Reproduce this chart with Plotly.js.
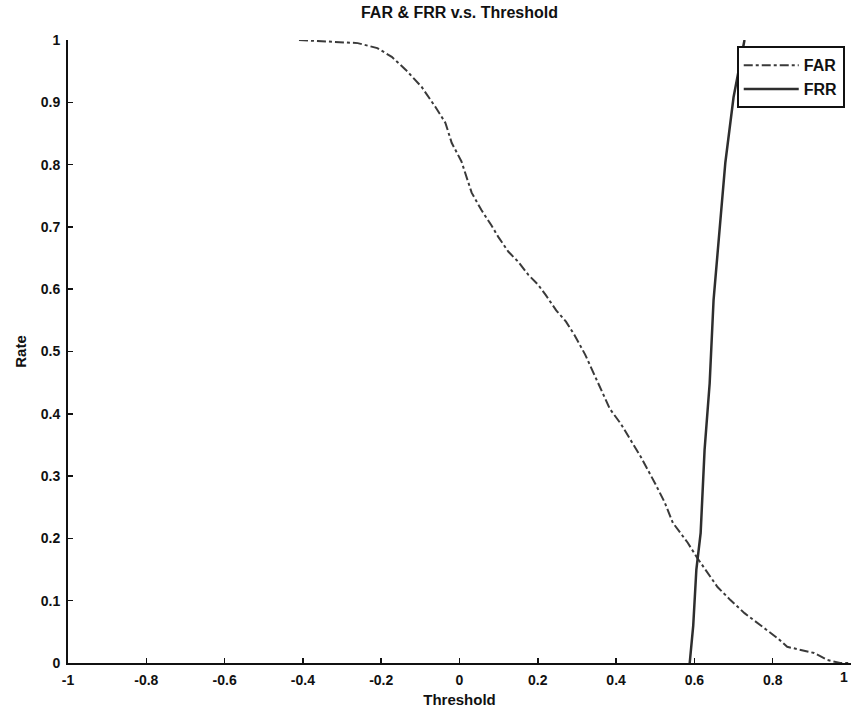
<!DOCTYPE html>
<html>
<head>
<meta charset="utf-8">
<script src="https://cdn.plot.ly/plotly-3.0.1.min.js"></script>
<style>html,body{margin:0;padding:0;background:#fff;}#chart{width:851px;height:712px;}</style>
</head>
<body>
<div id="chart"></div>
<script>
// FAR curve (dash-dot)
const farThreshold = [-0.41, -0.33, -0.26, -0.21, -0.173, -0.137, -0.097, -0.061, -0.036, -0.02, 0.005, 0.031, 0.056, 0.081, 0.099, 0.125, 0.15, 0.176, 0.201, 0.221, 0.247, 0.272, 0.295, 0.321, 0.341, 0.361, 0.384, 0.412, 0.438, 0.463, 0.499, 0.524, 0.545, 0.583, 0.608, 0.659, 0.692, 0.728, 0.768, 0.812, 0.837, 0.87, 0.906, 0.939, 0.972, 1.0];
const farRate      = [1.0, 0.997, 0.995, 0.987, 0.973, 0.952, 0.925, 0.892, 0.867, 0.835, 0.805, 0.755, 0.727, 0.703, 0.684, 0.660, 0.644, 0.623, 0.607, 0.590, 0.566, 0.548, 0.525, 0.495, 0.468, 0.441, 0.408, 0.384, 0.358, 0.331, 0.289, 0.258, 0.225, 0.193, 0.168, 0.122, 0.101, 0.080, 0.061, 0.040, 0.026, 0.021, 0.016, 0.005, 0.0, 0.0];
// FRR curve (solid)
const frrThreshold = [0.588, 0.597, 0.605, 0.616, 0.626, 0.639, 0.649, 0.664, 0.679, 0.700, 0.728];
const frrRate      = [0.0, 0.06, 0.15, 0.209, 0.342, 0.449, 0.583, 0.695, 0.803, 0.908, 1.0];
const xTicks = [-1, -0.8, -0.6, -0.4, -0.2, 0, 0.2, 0.4, 0.6, 0.8, 1];
const xTickLabels = ['-1', '-0.8', '-0.6', '-0.4', '-0.2', '0', '0.2', '0.4', '0.6', '0.8', '1'];
const yTicks = [0, 0.1, 0.2, 0.3, 0.4, 0.5, 0.6, 0.7, 0.8, 0.9, 1];
const yTickLabels = ['0', '0.1', '0.2', '0.3', '0.4', '0.5', '0.6', '0.7', '0.8', '0.9', '1'];

const font = 'Liberation Sans, Arial, sans-serif';
const traces = [
  {x: farThreshold, y: farRate, name: 'FAR', mode: 'lines', type: 'scatter',
   line: {color: '#3a3a3a', width: 2, dash: 'dashdot'}},
  {x: frrThreshold, y: frrRate, name: 'FRR', mode: 'lines', type: 'scatter',
   line: {color: '#2e2e2e', width: 2.5}}
];
const axisCommon = {
  showgrid: false, zeroline: false, showline: true, linecolor: '#111', linewidth: 2,
  ticks: 'inside', ticklen: 5, tickwidth: 1.5, tickcolor: '#111', mirror: false,
  tickfont: {family: font, size: 14, color: '#111', weight: 'bold'}
};
const layout = {
  width: 851, height: 712,
  margin: {l: 68, r: 0, t: 40, b: 49},
  paper_bgcolor: '#fff', plot_bgcolor: '#fff',
  title: {text: 'FAR & FRR v.s. Threshold', x: 0.5, xref: 'paper', y: 0.983, yanchor: 'middle',
          font: {family: font, size: 16, color: '#111', weight: 'bold'}},
  xaxis: Object.assign({}, axisCommon, {range: [-1, 1], tickvals: xTicks, ticktext: xTickLabels,
          ticklabelstandoff: 3,
          title: {text: 'Threshold', standoff: 8, font: {family: font, size: 15, color: '#111', weight: 'bold'}}}),
  yaxis: Object.assign({}, axisCommon, {range: [0, 1], tickvals: yTicks, ticktext: yTickLabels,
          ticklabelstandoff: 3,
          title: {text: 'Rate', standoff: 10, font: {family: font, size: 15, color: '#111', weight: 'bold'}}}),
  annotations: [{text: '1', xref: 'paper', yref: 'paper', x: 1.0, y: 0, xanchor: 'right', yanchor: 'top',
                 yshift: -4, xshift: -1, showarrow: false, font: {family: font, size: 14, color: '#111', weight: 'bold'}}],
  showlegend: true,
  legend: {x: 0.992, xanchor: 'right', y: 0.99, yanchor: 'top', bgcolor: '#fff',
           bordercolor: '#111', borderwidth: 2,
           font: {family: font, size: 16, color: '#111', weight: 'bold'},
           tracegroupgap: 0, itemwidth: 55}
};
Plotly.newPlot('chart', traces, layout, {displayModeBar: false, staticPlot: true});
</script>
</body>
</html>
